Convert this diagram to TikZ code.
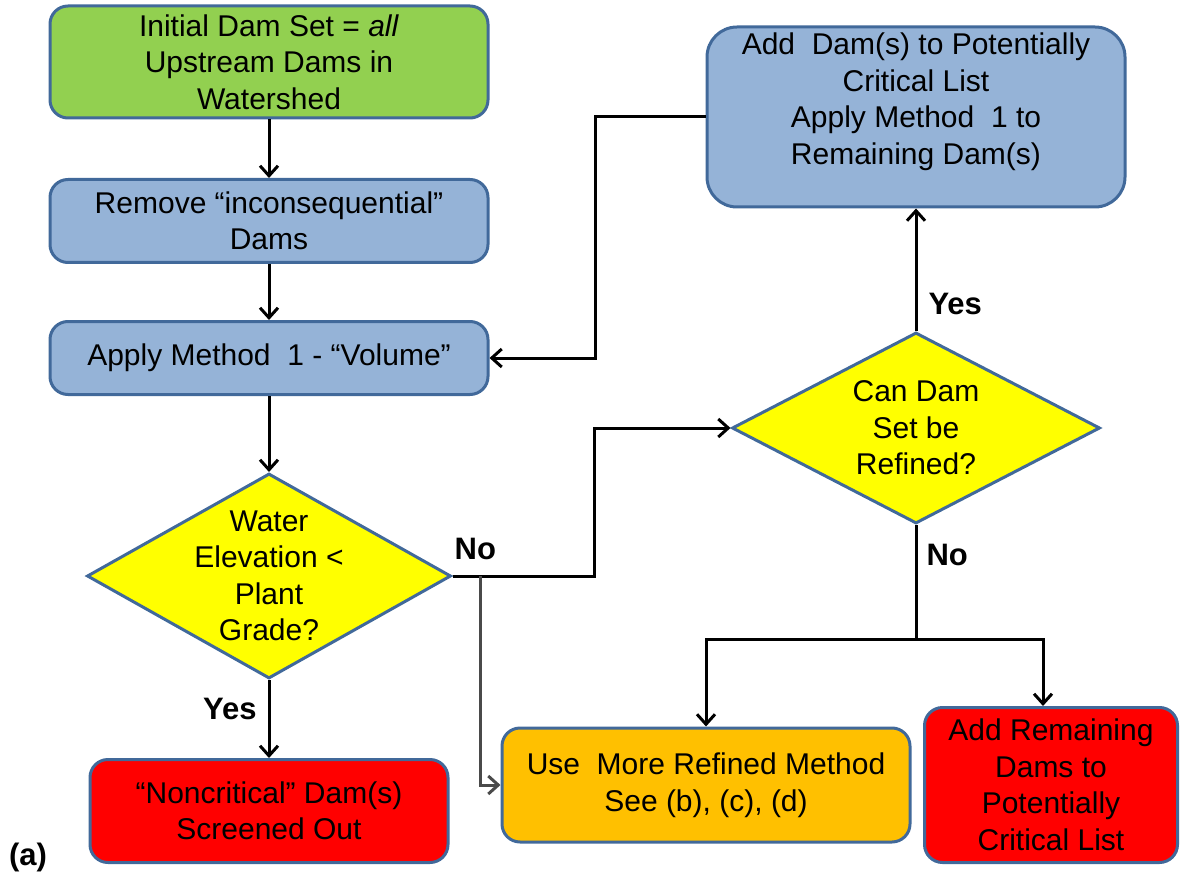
\documentclass[tikz,border=0pt]{standalone}
\usepackage{fontspec}
\setmainfont{Liberation Sans}
\usetikzlibrary{shapes.geometric,arrows.meta,calc}

\definecolor{boxgreen}{HTML}{92D050}
\definecolor{boxblue}{HTML}{95B3D7}
\definecolor{boxred}{HTML}{FF0000}
\definecolor{boxorange}{HTML}{FFC000}
\definecolor{diayellow}{HTML}{FFFF00}
\definecolor{edgeblue}{HTML}{41699A}
\definecolor{linegray}{HTML}{4A4A4A}

\begin{document}
\begin{tikzpicture}[
            x=1pt, y=-1pt,
            every node/.style={font=\fontsize{30}{36.5}\selectfont, inner sep=0pt},
            stepbox/.style={draw=edgeblue, line width=3pt, rounded corners=18pt,
                align=center, minimum width=438pt},
            decision/.style={diamond, draw=edgeblue, line width=3pt, fill=diayellow},
            answer/.style={font=\fontsize{31}{34}\selectfont\bfseries},
            link/.style={line width=3pt, -{Straight Barb[length=10pt,width=18pt]}}
        ]
        \useasboundingbox (0,0) rectangle (1180,877);
        % left column
        \node[stepbox, fill=boxgreen, minimum height=112pt] (init) at (269,62)
            {Initial Dam Set = \textit{all}\\Upstream Dams in\\Watershed};
        \node[stepbox, fill=boxblue, minimum height=83pt] (remove) at (269,221)
            {Remove “inconsequential”\\Dams};
        \node[stepbox, fill=boxblue, minimum height=73pt] (apply) at (269,358)
            {Apply Method\ \ 1 - “Volume”};
        \node[decision, minimum width=364pt, minimum height=205pt] (water) at (269,576) {};
        \node[align=center] (watertxt) at (water) {Water\\Elevation <\\Plant\\Grade?};
        \node[stepbox, fill=boxred, minimum width=358pt, minimum height=103pt] (noncrit) at (269,811)
            {“Noncritical” Dam(s)\\Screened Out};
        % right part
        \node[stepbox, fill=boxblue, minimum width=418pt, minimum height=180pt, rounded corners=30pt] (adddam) at (916,117)
            {Add\ \ Dam(s) to Potentially\\Critical List\\Apply Method\ \ 1 to\\Remaining Dam(s)\\\mbox{}};
        \node[decision, minimum width=368pt, minimum height=191pt] (canset) at (916,428) {};
        \node[align=center] (cansettxt) at (canset) {Can Dam\\Set be\\Refined?};
        \node[stepbox, fill=boxorange, minimum width=408pt, minimum height=114pt] (refined) at (706,785)
            {Use\ \ More Refined Method\\See (b), (c), (d)};
        \node[stepbox, fill=boxred, minimum width=253pt, minimum height=155pt] (addrem) at (1051,785)
            {Add Remaining\\Dams to\\Potentially\\Critical List};
        \node[answer] (panel) at (28,857) {(a)};

        % connectors
        \draw[link] (init.south) -- (remove.north);
        \draw[link] (remove.south) -- (apply.north);
        \draw[link] (apply.south) -- (water.north);
        \draw[link] (water.south) -- node[answer, left=11pt, pos=0.37] (yes1) {Yes} (noncrit.north);
        \coordinate (nosplit) at ($(water.east)+(28,0)$);
        \draw[link] (water.east) -- ++(142,0) |- (canset.west);
        \node[answer, anchor=south west] (no1) at ($(water.east)+(2,-16)$) {No};
        \draw[link, draw=linegray] (nosplit) |- (refined.west);
        \draw[link] (canset.north) -- node[answer, right=11pt, pos=0.22] (yes2) {Yes} (adddam.south);
        \draw[link] (adddam.west) -- ++(-110,0) |- (apply.east);
        \coordinate (branch) at ($(canset.south)+(0,114)$);
        \draw[line width=3pt] (canset.south) -- node[answer, right=9pt, pos=0.26] (no2) {No} (branch);
        \draw[link] (branch) -| (refined.north);
        \draw[link] (branch) -| ([xshift=-8pt]addrem.north);
\end{tikzpicture}
\end{document}
